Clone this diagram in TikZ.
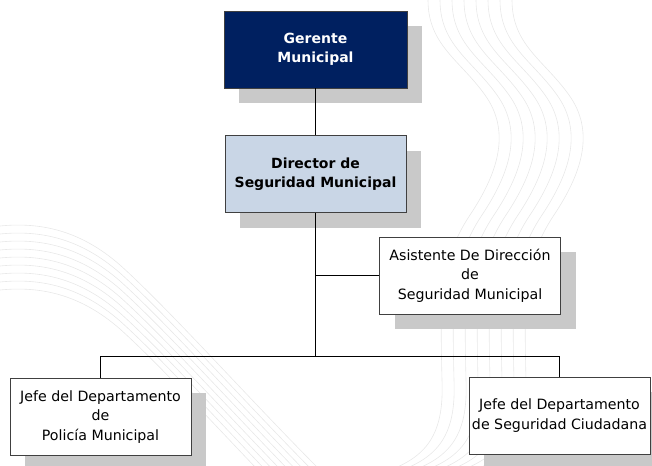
\documentclass[tikz,border=0pt]{standalone}
\usepackage{fontspec}
\setmainfont{DejaVu Sans}
\usetikzlibrary{positioning,shadows}
\definecolor{azulgerente}{RGB}{0,32,96}
\definecolor{azuldirector}{RGB}{201,214,230}

\begin{document}
\begin{tikzpicture}[x=1pt,y=-1pt,node distance=47pt,semithick]
  \tikzstyle{caja}=[draw=black!75,fill=white,align=center,minimum width=181pt,minimum height=77pt,inner sep=2pt,
    font=\fontsize{14.2}{19.5}\selectfont,
    drop shadow={shadow xshift=15pt,shadow yshift=-15pt,fill=black!21,opacity=1}]
  \tikzstyle{negrita}=[font=\fontsize{14}{19.5}\selectfont\bfseries]
  \tikzstyle{fondo}=[black!9,line width=0.6pt]
  \tikzstyle{linea}=[black,line width=0.9pt]

  \useasboundingbox (0,0) rectangle (652,465);

  % lineas de fondo
  \foreach \i in {0,...,7}
    \draw[fondo,xshift=\i*12pt] (428,0) .. controls (428,45) and (460,60) .. (485,95)
      .. controls (510,130) and (500,170) .. (470,215)
      .. controls (440,260) and (440,300) .. (442,380)
      .. controls (444,430) and (430,455) .. (390,470);
  \foreach \i in {0,...,8}
    \draw[fondo,yshift=-\i*8pt] (0,226) .. controls (40,222) and (80,230) .. (120,265)
      .. controls (170,310) and (250,400) .. (320,470);

  \node[caja,negrita,fill=azulgerente,text=white,minimum width=183pt] (gerente) at (315.5,49.5) {Gerente\\Municipal};
  \node[caja,negrita,fill=azuldirector] (director) [below=of gerente] {Director de\\Seguridad Municipal};
  \node[caja] (asistente) [below=24pt of director,xshift=154.5pt] {Asistente De Dirección\\de\\Seguridad Municipal};
  \node[caja] (jefepol) [below=165pt of director,xshift=-215pt] {Jefe del Departamento\\de\\Policía Municipal};
  \node[caja] (jefeseg) [below=164pt of director,xshift=244pt] {Jefe del Departamento\\de Seguridad Ciudadana};
  \coordinate[below=144pt of director.south] (bus);

  \draw[linea] (gerente) -- (director);
  \draw[linea] (director) -- (bus);
  \draw[linea] (asistente.west) -- (asistente.west -| director.south);
  \draw[linea] (jefepol.north) |- (bus) -| (jefeseg.north);
\end{tikzpicture}
\end{document}
